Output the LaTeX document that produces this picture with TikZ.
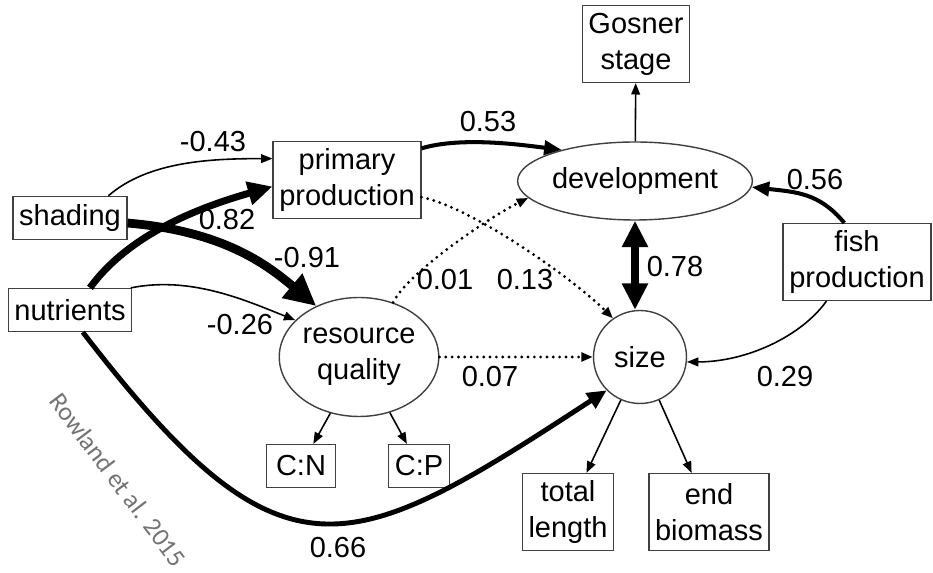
\documentclass[tikz,border=0pt]{standalone}
\usepackage{fontspec}
\setmainfont{Liberation Sans}
\newfontfamily\notefont{Carlito}
\usetikzlibrary{arrows.meta,shapes.geometric}

\tikzset{
  box/.style={draw=black!75, line width=0.8pt, inner xsep=3.5pt, inner ysep=0pt,
    align=center, minimum height=24.4pt},
  tallbox/.style={box, minimum height=43.7pt},
  latent/.style={draw=black!75, line width=0.8pt, ellipse, inner sep=0pt, align=center},
  link/.style={line width=0.9pt, -{Triangle[length=6.5pt,width=5pt]}},
  dotlink/.style={link, line width=1.8pt, dash pattern=on 0pt off 3.6pt, line cap=round},
  coef/.style={inner sep=1pt},
}

\begin{document}
\begin{tikzpicture}[x=0.02cm, y=-0.02cm, font=\fontsize{16.5}{20.4}\selectfont]
\useasboundingbox (0,0) rectangle (933,573);

\node[tallbox] (gosner) at (636,44) {Gosner\\stage};
\node[tallbox] (primary) at (347,180) {primary\\production};
\node[box] (shading) at (70,218) {shading};
\node[box] (nutrients) at (70,310) {nutrients};
\node[latent, minimum width=4.34cm, minimum height=1.56cm] (development) at (635,181) {development};
\node[tallbox] (fish) at (857,262) {fish\\production};
\node[latent, minimum width=3.06cm, minimum height=2.38cm] (resource) at (359,357) {resource\\quality};
\node[latent, circle, minimum size=1.86cm] (size) at (640,357) {size};
\node[box, minimum width=1.38cm] (cn) at (301,466) {C:N};
\node[box] (cp) at (419,466) {C:P};
\node[tallbox] (total) at (568,512) {total\\length};
\node[tallbox] (endbio) at (709,512) {end\\biomass};

\draw[link] (shading.30) .. controls +(40,-35) and +(-60,0) .. (primary.164);
\draw[link, line width=4pt, -{Triangle[length=14pt,width=13pt]}]
  (nutrients.48) .. controls +(40,-55) and +(-70,20) .. (primary.185);
\draw[link, line width=5pt, -{Triangle[length=18pt,width=17pt]}]
  (shading.-5) .. controls +(95,8) and +(-50,-42) .. (resource.130);
\draw[link] (nutrients.20) .. controls +(60,-12) and +(-50,-20) .. (resource.150);
\draw[link, line width=2.8pt, -{Triangle[length=11pt,width=10pt]}]
  (nutrients.-60) .. controls +(200,260) and +(-260,170) .. (size.225);
\draw[link, line width=2.3pt, -{Triangle[length=10pt,width=8pt]}]
  (primary.23) .. controls +(40,-12) and +(-40,-5) .. (development.157);
\draw[dotlink] (primary.-13) .. controls +(50,10) and +(-40,-40) .. (size.125);
\draw[dotlink] (resource.58) .. controls +(15,-30) and +(-40,20) .. (development.189);
\draw[dotlink] (resource) -- (size);
\draw[line width=4pt, {Triangle[length=15pt,width=14pt]}-{Triangle[length=15pt,width=14pt]}]
  (development.south) -- (development.south |- size.north);
\draw[link, line width=2.3pt, -{Triangle[length=10pt,width=8pt]}]
  (fish.108) .. controls +(-25,-30) and +(45,5) .. (development.-3);
\draw[link] (fish.232) .. controls +(-25,35) and +(60,0) .. (size.-6);
\draw[link] (development) -- (gosner);
\draw[link] (resource.243) -- (cn);
\draw[link] (resource.-61) -- (cp);
\draw[link] (size.246) -- (total);
\draw[link] (size.-66) -- (endbio);

\node[coef] (k043) at (213,142) {-0.43};
\node[coef] (k082) at (227,220) {0.82};
\node[coef] (k091) at (307,258) {-0.91};
\node[coef] (k026) at (240,325) {-0.26};
\node[coef] (k066) at (338,548) {0.66};
\node[coef] (k053) at (488,122) {0.53};
\node[coef] (k056) at (815,180) {0.56};
\node[coef] (k078) at (675,267) {0.78};
\node[coef] (k001) at (445,280) {0.01};
\node[coef] (k013) at (525,280) {0.13};
\node[coef] (k007) at (490,377) {0.07};
\node[coef] (k029) at (785,377) {0.29};

\node[rotate=-53, text=black!55, font=\notefont\fontsize{14.7}{16}\selectfont] (credit)
  at (118,480) {Rowland et al. 2015};
\end{tikzpicture}
\end{document}
